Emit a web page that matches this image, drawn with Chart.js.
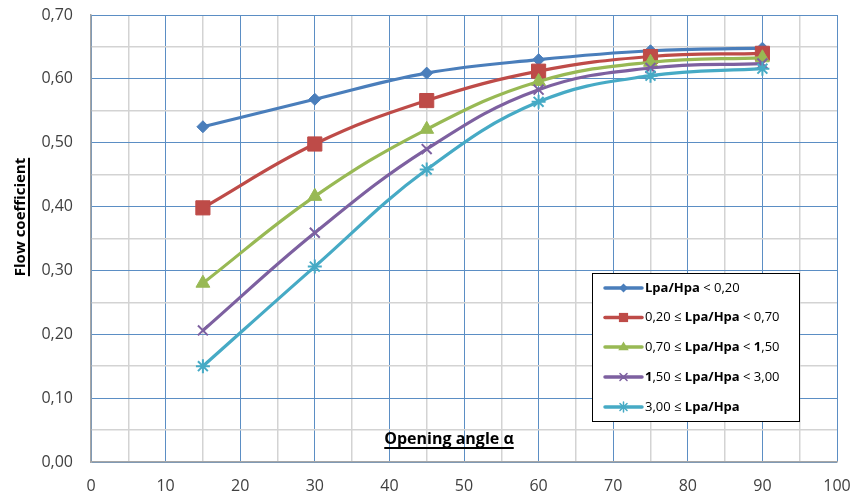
<!DOCTYPE html>
<html><head><meta charset="utf-8">
<script src="https://cdn.jsdelivr.net/npm/chart.js@4/dist/chart.umd.min.js"></script>
<style>html,body{margin:0;padding:0;background:#fff;}#wrap{width:853px;height:495px;position:relative}</style>
</head><body><div id="wrap"><canvas id="c" width="853" height="495"></canvas></div>
<script>
// ---- data ----
const angles = [15, 30, 45, 60, 75, 90];
const s1 = [0.525, 0.568, 0.609, 0.630, 0.644, 0.648];
const s2 = [0.398, 0.498, 0.566, 0.612, 0.635, 0.640];
const s3 = [0.280, 0.416, 0.521, 0.596, 0.626, 0.633];
const s4 = [0.206, 0.359, 0.490, 0.583, 0.617, 0.624];
const s5 = [0.150, 0.306, 0.458, 0.564, 0.605, 0.616];
const seriesLabels = ['Lpa/Hpa < 0,20', '0,20 ≤ Lpa/Hpa < 0,70', '0,70 ≤ Lpa/Hpa < 1,50', '1,50 ≤ Lpa/Hpa < 3,00', '3,00 ≤ Lpa/Hpa'];
const xTickLabels = ['0','10','20','30','40','50','60','70','80','90','100'];
const yTickLabels = ['0,00','0,10','0,20','0,30','0,40','0,50','0,60','0,70'];
const xTitle = 'Opening angle α';
const yTitle = 'Flow coefficient';

// ---- styles ----
const colors = ['#4A7EBB', '#BE4B48', '#98B954', '#7D60A0', '#46AAC5'];
const styles = ['rectRot', 'rect', 'triangle', 'crossRot', 'star'];
const radii = [6, 10, 8, 7, 7];
const legRadii = [4.5, 6.5, 5.5, 5, 5];
const allSeries = [s1, s2, s3, s4, s5];

const datasets = allSeries.map((s, i) => ({
  label: seriesLabels[i],
  data: angles.map((a, j) => ({x: a, y: s[j]})),
  borderColor: colors[i],
  backgroundColor: colors[i],
  pointBackgroundColor: colors[i],
  pointBorderColor: colors[i],
  pointStyle: styles[i],
  pointRadius: radii[i],
  pointBorderWidth: (i >= 3) ? 2 : 1,
  borderWidth: 3.2,
  tension: 0.4,
  fill: false,
  order: allSeries.length - i
}));

function drawMarker(ctx, style, x, y, r, color) {
  ctx.save();
  ctx.fillStyle = color; ctx.strokeStyle = color; ctx.lineWidth = 1.5;
  ctx.beginPath();
  if (style === 'rectRot') {
    ctx.moveTo(x, y - r); ctx.lineTo(x + r, y); ctx.lineTo(x, y + r); ctx.lineTo(x - r, y); ctx.closePath(); ctx.fill();
  } else if (style === 'rect') {
    ctx.rect(x - r * 0.707, y - r * 0.707, r * 1.414, r * 1.414); ctx.fill();
  } else if (style === 'triangle') {
    ctx.moveTo(x, y - r); ctx.lineTo(x + r * 0.95, y + r * 0.6); ctx.lineTo(x - r * 0.95, y + r * 0.6); ctx.closePath(); ctx.fill();
  } else if (style === 'crossRot') {
    const d = r * 0.707;
    ctx.moveTo(x - d, y - d); ctx.lineTo(x + d, y + d); ctx.moveTo(x + d, y - d); ctx.lineTo(x - d, y + d); ctx.stroke();
  } else if (style === 'star') {
    const d = r * 0.707;
    ctx.moveTo(x - d, y - d); ctx.lineTo(x + d, y + d); ctx.moveTo(x + d, y - d); ctx.lineTo(x - d, y + d);
    ctx.moveTo(x, y - r); ctx.lineTo(x, y + r); ctx.stroke();
  }
  ctx.restore();
}

const overlay = {
  id: 'overlay',
  afterDatasetsDraw(chart) {
    const ctx = chart.ctx;
    ctx.save();
    // x title (inside plot)
    ctx.font = 'bold 16px "Open Sans"';
    ctx.fillStyle = '#000'; ctx.textAlign = 'center'; ctx.textBaseline = 'alphabetic';
    const xc = 449, xb = 444;
    ctx.fillText(xTitle, xc, xb);
    let w = ctx.measureText(xTitle).width;
    ctx.fillRect(xc - w / 2, xb + 3, w, 2);
    // y title
    ctx.save();
    ctx.translate(25, 217);
    ctx.rotate(-Math.PI / 2);
    ctx.font = 'bold 15px "Open Sans"';
    ctx.fillText(yTitle, 0, 0);
    w = ctx.measureText(yTitle).width;
    ctx.fillRect(-w / 2, 3, w, 2);
    ctx.restore();
    // legend
    const bx = 592, by = 273, bw = 207, bh = 148;
    ctx.fillStyle = '#fff'; ctx.fillRect(bx, by, bw, bh);
    ctx.strokeStyle = '#000'; ctx.lineWidth = 1; ctx.strokeRect(bx + 0.5, by + 0.5, bw, bh);
    const rowY = [288, 317.5, 347, 377, 407];
    ctx.textAlign = 'left'; ctx.textBaseline = 'middle';
    seriesLabels.forEach((lab, i) => {
      const y = rowY[i];
      ctx.strokeStyle = colors[i]; ctx.lineWidth = 3.5; ctx.lineCap = 'round';
      ctx.beginPath(); ctx.moveTo(605, y); ctx.lineTo(642, y); ctx.stroke();
      drawMarker(ctx, styles[i], 623.5, y, legRadii[i], colors[i]);
      const parts = lab.split(/(Lpa\/Hpa|\b1(?=,))/).filter(p => p.length);
      let x = 645;
      ctx.fillStyle = '#000';
      parts.forEach(p => {
        const bold = (p === 'Lpa/Hpa' || p === '1');
        ctx.font = (bold ? 'bold ' : '') + '13px "Open Sans"';
        ctx.fillText(p, x, y);
        x += ctx.measureText(p).width;
      });
    });
    ctx.restore();
  }
};

new Chart(document.getElementById('c'), {
  type: 'line',
  data: { datasets },
  plugins: [overlay],
  options: {
    responsive: false,
    animation: false,
    events: [],
    layout: { padding: { top: 15, right: 16, left: 0, bottom: 0 } },
    plugins: { legend: { display: false }, tooltip: { enabled: false } },
    scales: {
      x: {
        type: 'linear', min: 0, max: 100,
        ticks: {
          stepSize: 5, autoSkip: false, maxRotation: 0,
          font: { family: 'Open Sans', size: 16 }, color: '#404040', padding: 15,
          callback: (v) => (Math.round(v) % 10 === 0) ? xTickLabels[Math.round(v) / 10] : ''
        },
        grid: {
          drawTicks: false,
          color: (c) => (c.tick && Math.round(c.tick.value) % 10 === 0) ? '#5B8EC4' : '#D3D3D3',
          lineWidth: (c) => (c.tick && Math.round(c.tick.value) % 10 === 0) ? 1 : 1.5
        },
        border: { color: '#A6A6A6', width: 1.5 },
        afterFit: (s) => { s.height = 33; s.paddingLeft = 0; s.paddingRight = 0; }
      },
      y: {
        min: 0, max: 0.7,
        ticks: {
          stepSize: 0.05, autoSkip: false,
          font: { family: 'Open Sans', size: 16 }, color: '#404040', padding: 18,
          callback: (v) => { const k = Math.round(v * 100); return (k % 10 === 0) ? yTickLabels[k / 10] : ''; }
        },
        grid: {
          drawTicks: false,
          color: (c) => (c.tick && Math.round(c.tick.value * 100) % 10 === 0) ? '#5B8EC4' : '#D3D3D3',
          lineWidth: (c) => (c.tick && Math.round(c.tick.value * 100) % 10 === 0) ? 1 : 1.5
        },
        border: { color: '#A6A6A6', width: 1.5 },
        afterFit: (s) => { s.width = 91; s.paddingTop = 0; s.paddingBottom = 0; }
      }
    }
  }
});
</script></body></html>
